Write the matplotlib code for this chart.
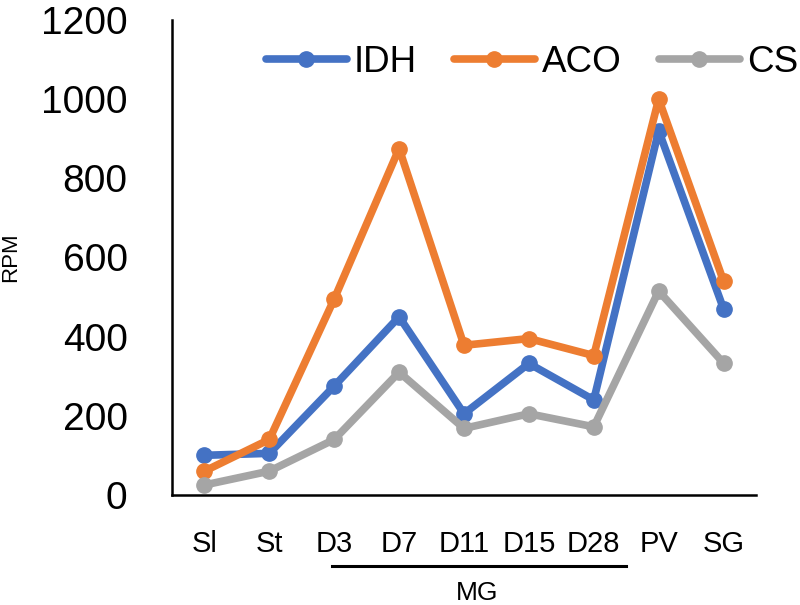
import matplotlib
matplotlib.use("Agg")
import matplotlib.pyplot as plt
import matplotlib.transforms as mtransforms
import numpy as np

plt.rcParams["font.family"] = ["Liberation Sans", "DejaVu Sans"]

categories = ["Sl", "St", "D3", "D7", "D11", "D15", "D28", "PV", "SG"]
idh = [100, 105, 275, 450, 205, 332, 240, 920, 470]
aco = [60, 140, 495, 875, 378, 395, 352, 1000, 540]
cs = [25, 60, 140, 310, 168, 205, 172, 515, 333]
yticks = [0, 200, 400, 600, 800, 1000, 1200]

series = [("IDH", idh, "#4472C4"), ("ACO", aco, "#ED7D31"), ("CS", cs, "#A5A5A5")]

fig = plt.figure(figsize=(8, 6.05), dpi=100)
ax = fig.add_axes([0.215, 0.182, 0.73, 0.785])

x = np.arange(len(categories))
for name, vals, color in series:
    ax.plot(x, vals, "-o", color=color, lw=5.5, ms=11, label=name,
            solid_capstyle="round", solid_joinstyle="round")

ax.set_xlim(-0.5, len(categories) - 0.5)
ax.set_ylim(0, 1200)
ax.set_yticks(yticks)
ax.set_xticks(x)
ax.set_xticklabels(categories)
ax.tick_params(axis="y", length=0, pad=32, labelsize=28)
ax.tick_params(axis="x", length=0, pad=25, labelsize=21)
for side in ["top", "right"]:
    ax.spines[side].set_visible(False)
for side in ["left", "bottom"]:
    ax.spines[side].set_linewidth(1.8)
ax.set_ylabel("RPM", fontsize=16, labelpad=0)
ax.yaxis.set_label_coords(-0.258, 0.5)

# MG bracket under the day labels
trans = mtransforms.blended_transform_factory(ax.transData, fig.transFigure)
ax.plot([1.97, 6.5], [1 - 566 / 605, 1 - 566 / 605], color="black", lw=2.2,
        transform=trans, clip_on=False)
ax.text(4.2, 1 - 593 / 605, "MG", transform=trans, ha="center", va="center",
        fontsize=19)

fig.legend(loc="center", bbox_to_anchor=(0.665, 0.897), ncol=3, frameon=False,
           fontsize=26.5, handlelength=2.2, handletextpad=0.2, columnspacing=1.0)

plt.savefig("out.png", dpi=100)
plt.close()
